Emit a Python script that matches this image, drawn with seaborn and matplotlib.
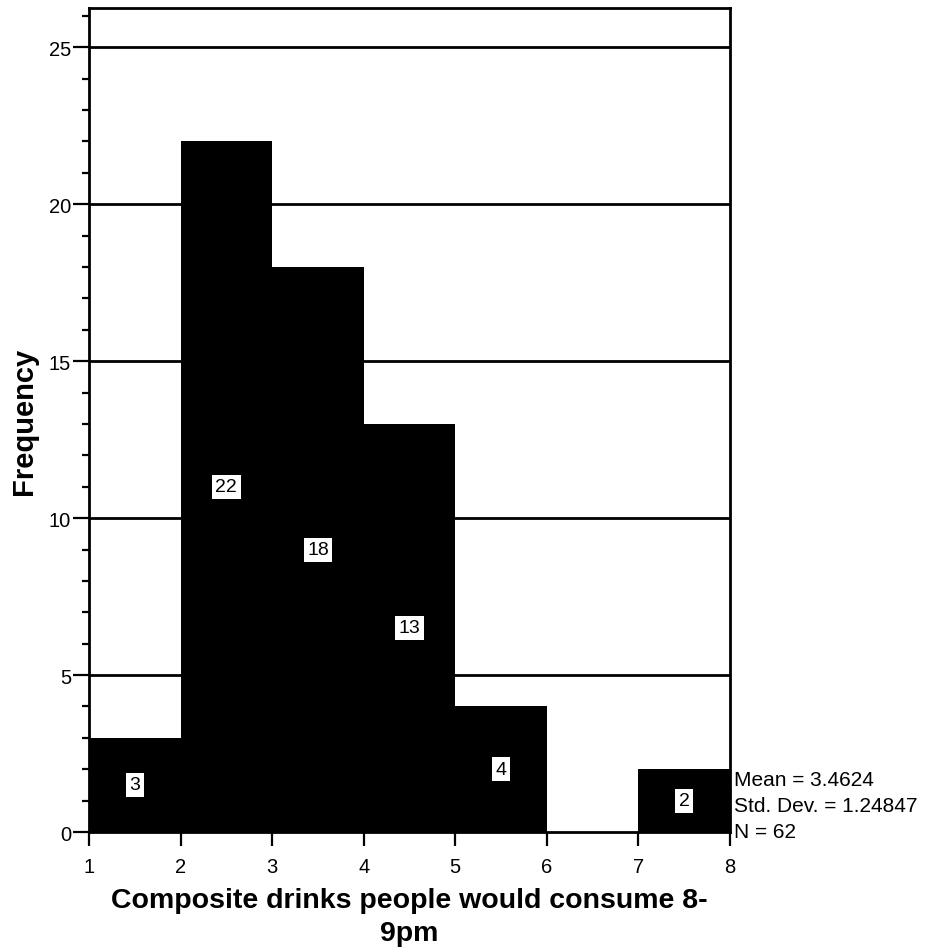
import numpy as np
import pandas as pd
import matplotlib
matplotlib.use('Agg')
import matplotlib.pyplot as plt
import seaborn as sns
from matplotlib.ticker import MultipleLocator

# Histogram data
bin_edges = [1, 2, 3, 4, 5, 6, 7, 8]
bin_centers = [1.5, 2.5, 3.5, 4.5, 5.5, 6.5, 7.5]
counts = [3, 22, 18, 13, 4, 0, 2]
stats_lines = ['Mean = 3.4624', 'Std. Dev. = 1.24847', 'N = 62']

sns.set_style('white')
plt.rcParams['font.family'] = ['Liberation Sans', 'DejaVu Sans']
plt.rcParams['text.color'] = 'black'
plt.rcParams['axes.labelcolor'] = 'black'
plt.rcParams['xtick.color'] = 'black'
plt.rcParams['ytick.color'] = 'black'

df = pd.DataFrame({'value': bin_centers, 'count': counts})

fig = plt.figure(figsize=(9.26, 9.53), dpi=100)
ax = fig.add_axes([0.0961, 0.1259, 0.6922, 0.8646])

# Gridlines behind the bars
for y in [5, 10, 15, 20, 25]:
    ax.axhline(y, color='black', lw=2, zorder=0)

sns.histplot(data=df, x='value', weights='count', bins=bin_edges,
             color='black', alpha=1, edgecolor='black', linewidth=0,
             ax=ax, zorder=2)

# Count labels in white boxes at half height
for c, n in zip(bin_centers, counts):
    if n > 0:
        ax.text(c, n / 2, str(n), ha='center', va='center', fontsize=14,
                color='black', zorder=3,
                bbox=dict(facecolor='white', edgecolor='none', pad=2.5))

ax.set_xlim(1, 8)
ax.set_ylim(0, 26.25)
ax.set_xticks(range(1, 9))
ax.yaxis.set_major_locator(MultipleLocator(5))
ax.yaxis.set_minor_locator(MultipleLocator(1))
ax.tick_params(axis='x', which='major', direction='out', length=10,
               width=1.6, labelsize=14.5, pad=8, bottom=True)
ax.tick_params(axis='y', which='major', direction='out', length=11.5,
               width=1.6, labelsize=14.5, pad=1.5, left=True)
ax.tick_params(axis='y', which='minor', direction='out', length=5,
               width=1.6, left=True)

for s in ax.spines.values():
    s.set_color('black')
    s.set_linewidth(2)

ax.set_xlabel('Composite drinks people would consume 8-\n9pm',
              fontsize=20.5, fontweight='bold', labelpad=8, linespacing=1.35)
ax.set_ylabel('Frequency', fontsize=21, fontweight='bold', labelpad=8)

ax.text(1.007, 0.075, '\n'.join(stats_lines), transform=ax.transAxes,
        ha='left', va='top', fontsize=15, linespacing=1.45)

fig.savefig('out.png', dpi=100)
